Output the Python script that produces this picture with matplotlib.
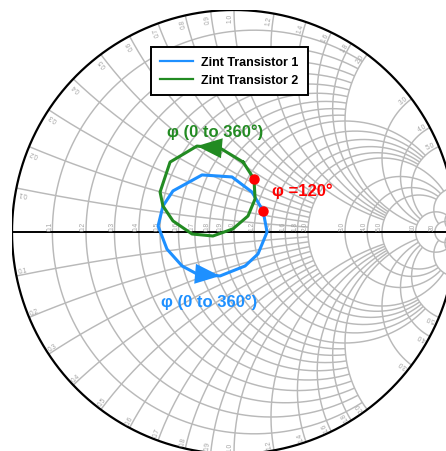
import numpy as np
import matplotlib
matplotlib.use('Agg')
import matplotlib.pyplot as plt

plt.rcParams['font.family'] = ['Liberation Sans', 'DejaVu Sans']

# ---- Smith chart grid (MATLAB-style): line value and where each line stops ----
grid_values = [0.1, 0.2, 0.3, 0.4, 0.5, 0.6, 0.7, 0.8, 0.9, 1.0,
               1.2, 1.4, 1.6, 1.8, 2.0, 3.0, 4.0, 5.0, 10, 20, 50]
grid_limits = [2, 2, 2, 2, 2, 2, 2, 2, 2, 5,
               5, 5, 5, 5, 10, 10, 10, 10, 20, 50, np.inf]
grid_labels = ['0.1', '0.2', '0.3', '0.4', '0.5', '0.6', '0.7', '0.8', '0.9', '1.0',
               '1.2', '1.4', '1.6', '1.8', '2.0', '3.0', '4.0', '5.0', '10', '20', '50']

# ---- Data: reflection coefficient of Zint (phi swept 0..360 deg) ----
t1_gamma_re = [-0.167, -0.063, 0.050, 0.108, 0.149, 0.131, 0.081,
               -0.009, -0.144, -0.275, -0.320, -0.342, -0.302, -0.234]
t1_gamma_im = [-0.189, -0.198, -0.153, -0.099, 0.000, 0.095, 0.180,
               0.248, 0.257, 0.185, 0.117, 0.027, -0.077, -0.153]
t2_gamma_re = [0.041, -0.063, -0.167, -0.288, -0.333, -0.320, -0.275,
               -0.189, -0.095, -0.005, 0.063, 0.095, 0.090]
t2_gamma_im = [0.315, 0.378, 0.387, 0.315, 0.180, 0.117, 0.050,
               -0.009, -0.018, 0.014, 0.072, 0.149, 0.239]
series_names = ['Zint Transistor 1', 'Zint Transistor 2']
phi120_index = [5, 12]      # vertex where phi = 120 deg
arrow_edge = [0, 1]         # edge carrying the direction arrow

BLUE = '#1e90ff'
GREEN = '#228b22'
GRID = '#b9b9b9'
LAB = '#a4a4a4'


def gamma(z):
    return (z - 1) / (z + 1)


fig = plt.figure(figsize=(4.46, 4.52), dpi=100)
ax = fig.add_axes([12 / 446, -3 / 452, 444 / 446, 444 / 452])
ax.set_xlim(-1, 1)
ax.set_ylim(-1, 1)
ax.axis('off')

# grid
for v, lim in zip(grid_values, grid_limits):
    tmax = np.arctan(lim)
    t = np.linspace(-tmax, tmax, 1201)
    g = gamma(v + 1j * np.tan(t))
    ax.plot(g.real, g.imag, color=GRID, lw=1.05, zorder=1, solid_capstyle='butt')
    t = np.linspace(0, tmax, 800)
    for s in (1, -1):
        g = gamma(np.tan(t) + 1j * s * v)
        ax.plot(g.real, g.imag, color=GRID, lw=1.05, zorder=1, solid_capstyle='butt')

# outer circle and real axis
th = np.linspace(0, 2 * np.pi, 1000)
ax.plot(np.cos(th), np.sin(th), color='black', lw=1.6, zorder=2)
ax.plot([-1, 1], [0, 0], color='black', lw=1.4, zorder=2)

# labels
for v, lab in zip(grid_values, grid_labels):
    g = gamma(v)
    if g < 0.95:
        ax.text(g - 0.004, 0.010, lab, rotation=90, rotation_mode='anchor',
                ha='left', va='baseline', fontsize=4.8, color=LAB, zorder=2)
    for s in (1, -1):
        g = gamma(1j * s * v)
        if g.real > 0.95:
            continue
        ang = np.degrees(np.angle(g)) % 360
        rot = ang % 180
        rr = 0.988
        ax.text(rr * g.real, rr * g.imag, lab, rotation=rot, rotation_mode='anchor',
                ha='right' if s > 0 else 'left', va='bottom',
                fontsize=4.8, color=LAB, zorder=2)

# data
handles = []
for re, im, col, name, mi, ae in zip([t1_gamma_re, t2_gamma_re], [t1_gamma_im, t2_gamma_im],
                                     [BLUE, GREEN], series_names, phi120_index, arrow_edge):
    re = np.asarray(re)
    im = np.asarray(im)
    h, = ax.plot(np.append(re, re[0]), np.append(im, im[0]), color=col, lw=2.2,
                 label=name, zorder=3)
    handles.append(h)
    ax.plot(re[mi], im[mi], 'o', color='red', ms=6.5, zorder=5)
    j = (ae + 1) % len(re)
    ax.annotate('', xy=(re[j], im[j]), xytext=(re[ae], im[ae]),
                arrowprops=dict(arrowstyle='-|>,head_length=0.9,head_width=0.36',
                                mutation_scale=20, color=col, lw=0,
                                shrinkA=0, shrinkB=0), zorder=4)

ax.text(-0.0856, 0.455, 'φ (0 to 360°)', color=GREEN, fontsize=12, fontweight='bold',
        ha='center', va='center', zorder=6)
ax.text(-0.113, -0.311, 'φ (0 to 360°)', color=BLUE, fontsize=12, fontweight='bold',
        ha='center', va='center', zorder=6)
ax.text(0.171, 0.189, 'φ =120°', color='red', fontsize=12, fontweight='bold',
        ha='left', va='center', zorder=6)

leg = ax.legend(handles=handles, loc='upper left', bbox_to_anchor=(151 / 446, 1 - 48 / 452),
                bbox_transform=fig.transFigure, prop={'weight': 'bold', 'size': 9},
                frameon=True, fancybox=False, edgecolor='black', framealpha=1,
                borderaxespad=0, handlelength=2.6, handletextpad=0.65, borderpad=0.75,
                labelspacing=0.45)
leg.get_frame().set_linewidth(1.4)
for ln in leg.get_lines():
    ln.set_linewidth(1.6)
leg.set_zorder(10)

fig.savefig('out.png', dpi=100)
